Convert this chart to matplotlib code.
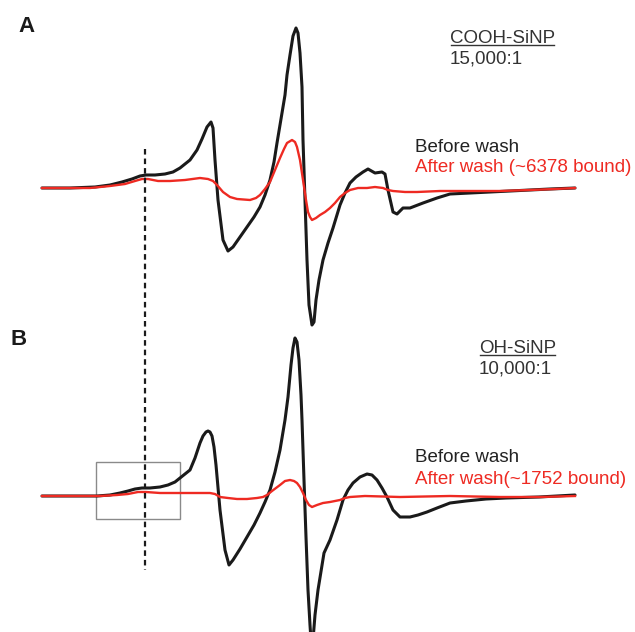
import matplotlib
matplotlib.use('Agg')
import matplotlib.pyplot as plt
from matplotlib.patches import Rectangle

plt.rcParams['font.family'] = ['Liberation Sans', 'DejaVu Sans']

# field axis (arbitrary units) and first-derivative intensities
# panel A: COOH-SiNP
field_a_before = [42, 70, 95, 110, 122, 132, 140, 146, 155, 165,
                  173, 180, 190, 197, 202, 207, 211, 213, 215, 218,
                  223, 228, 233, 240, 247, 254, 260, 265, 270, 274,
                  277, 282, 285, 287, 290, 293, 296, 298, 300, 302,
                  303, 305, 307, 309, 312, 314, 316, 319, 323, 328,
                  333, 340, 345, 350, 356, 363, 368, 375, 382, 385,
                  388, 393, 397, 403, 410, 423, 437, 450, 470, 490,
                  510, 530, 550, 575]
signal_a_before = [0, 0, 1, 3, 6, 9, 12, 13, 13, 14,
                   16, 20, 28, 38, 49, 61, 66, 60, 28, -12,
                   -52, -63, -59, -49, -39, -29, -19, -7, 8, 26,
                   45, 75, 93, 113, 133, 152, 160, 155, 135, 101,
                   48, -12, -72, -117, -137, -134, -112, -92, -72, -55,
                   -40, -17, -5, 5, 11, 16, 19, 15, 16, 14,
                   -2, -24, -26, -20, -20, -15, -10, -6, -5, -4,
                   -3, -2, -1, 0]

field_a_after = [42, 90, 110, 125, 135, 142, 148, 158, 170, 185,
                 200, 208, 213, 217, 223, 230, 237, 250, 256, 260,
                 265, 270, 275, 280, 284, 287, 292, 295, 297, 300,
                 303, 306, 308, 310, 312, 316, 320, 325, 330, 335,
                 340, 345, 350, 358, 367, 375, 383, 388, 393, 405,
                 417, 440, 470, 500, 530, 555, 575]
signal_a_after = [0, 0, 2, 4, 7, 9, 9, 7, 7, 8,
                  10, 9, 7, 3, -4, -9, -11, -12, -10, -7,
                  -1, 6, 18, 30, 39, 45, 48, 46, 41, 28,
                  8, -12, -24, -29, -32, -30, -27, -24, -20, -15,
                  -9, -5, -2, 0, 0, 1, 0, -2, -3, -4,
                  -4, -3, -3, -3, -2, -1, 0]

# panel B: OH-SiNP
field_b_before = [42, 97, 110, 120, 128, 135, 142, 150, 160, 168,
                  175, 180, 185, 190, 195, 200, 203, 206, 208, 210,
                  212, 214, 216, 220, 225, 229, 233, 240, 247, 254,
                  260, 265, 270, 275, 280, 285, 288, 291, 293, 295,
                  297, 299, 301, 302, 304, 306, 308, 310, 311, 313,
                  315, 318, 324, 330, 337, 343, 348, 353, 360, 367,
                  372, 377, 382, 387, 393, 400, 410, 418, 427, 437,
                  450, 466, 486, 506, 539, 575]
signal_b_before = [0, 0, 1, 3, 5, 7, 8, 8, 9, 11,
                   14, 18, 22, 26, 38, 53, 60, 64, 65, 64,
                   60, 49, 31, -14, -54, -69, -64, -53, -41, -29,
                   -17, -6, 6, 24, 46, 76, 99, 131, 148, 158,
                   154, 136, 101, 76, 16, -41, -94, -129, -144, -144,
                   -119, -94, -57, -44, -24, -4, 6, 13, 19, 22,
                   21, 16, 8, -1, -14, -21, -21, -19, -16, -12,
                   -7, -5, -3, -2, -1, 1]

field_b_after = [42, 100, 117, 128, 138, 146, 160, 180, 210, 215,
                 220, 228, 237, 247, 257, 263, 267, 272, 276, 280,
                 285, 290, 294, 297, 300, 303, 306, 309, 312, 317,
                 323, 330, 340, 345, 350, 365, 400, 450, 500, 540,
                 575]
signal_b_after = [0, 0, 1, 2, 4, 4, 3, 3, 3, 2,
                  -1, -2, -3, -3, -2, -1, 1, 5, 8, 11,
                  15, 16, 15, 13, 9, 3, -4, -9, -11, -9,
                  -7, -6, -4, -2, -1, 0, -1, 0, -1, -1,
                  0]

# vertical offsets that stack panel A above panel B
offset_a = 444
offset_b = 136

BLACK = '#1a1a1a'
RED = '#ee2a22'

fig = plt.figure(figsize=(6.35, 6.32), dpi=100)
ax = fig.add_axes([0, 0, 1, 1])
ax.set_xlim(0, 635)
ax.set_ylim(0, 632)
ax.axis('off')

ax.plot(field_a_before, [v + offset_a for v in signal_a_before], color=BLACK, lw=2.2,
        solid_joinstyle='round', solid_capstyle='round')
ax.plot(field_a_after, [v + offset_a for v in signal_a_after], color=RED, lw=1.7,
        solid_joinstyle='round')
ax.plot(field_b_before, [v + offset_b for v in signal_b_before], color=BLACK, lw=2.2,
        solid_joinstyle='round', solid_capstyle='round')
ax.plot(field_b_after, [v + offset_b for v in signal_b_after], color=RED, lw=1.7,
        solid_joinstyle='round')

# dashed marker through both spectra and the zoom box in B
ax.plot([145, 145], [offset_a + 39, offset_b - 74], color=BLACK, lw=1.6,
        linestyle=(0, (2.5, 1.8)))
ax.add_patch(Rectangle((96, offset_b - 23), 84, 57, fill=False, edgecolor='#8a8a8a', lw=1))

ax.text(18, 632 - 32, 'A', fontsize=16, fontweight='bold', color=BLACK)
ax.text(10, 632 - 345, 'B', fontsize=16, fontweight='bold', color=BLACK)

labels = []
labels.append(ax.text(450, 632 - 43, 'COOH-SiNP', fontsize=13.5, color='#333333'))
ax.text(450, 632 - 64, '15,000:1', fontsize=13.5, color='#333333')
ax.text(415, 632 - 152, 'Before wash', fontsize=13.5, color='#222222')
ax.text(415, 632 - 172, 'After wash (~6378 bound)', fontsize=13.5, color=RED)

labels.append(ax.text(479, 632 - 353, 'OH-SiNP', fontsize=13.5, color='#333333'))
ax.text(479, 632 - 374, '10,000:1', fontsize=13.5, color='#333333')
ax.text(415, 632 - 462, 'Before wash', fontsize=13.5, color='#222222')
ax.text(415, 632 - 484, 'After wash(~1752 bound)', fontsize=13.5, color=RED)

# underline the sample names
fig.canvas.draw()
inv = ax.transData.inverted()
for t in labels:
    bb = t.get_window_extent()
    (x0, y0), (x1, _) = inv.transform([(bb.x0, bb.y0), (bb.x1, bb.y1)])
    ax.plot([x0 + 1, x1 - 1], [y0 + 2, y0 + 2], color='#333333', lw=1)

fig.savefig('out.png', dpi=100)
